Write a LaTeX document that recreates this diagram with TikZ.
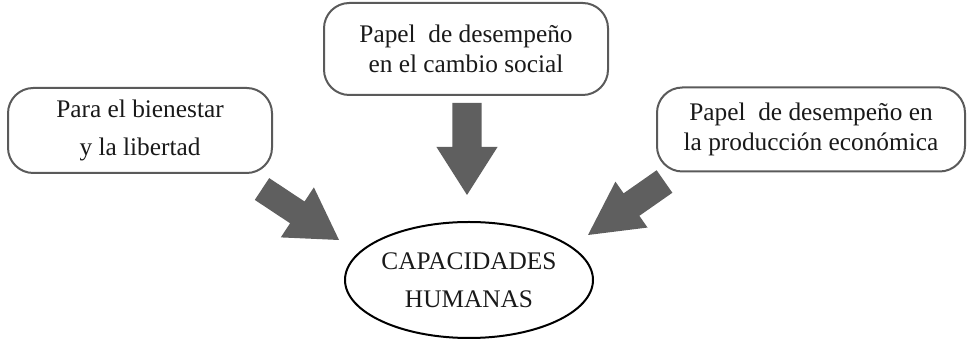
\documentclass[tikz,border=0pt]{standalone}
\usepackage{fontspec}
\setmainfont{Liberation Serif}
\usetikzlibrary{calc,shapes.geometric}
\definecolor{arrowgray}{RGB}{95,95,95}
\definecolor{boxgray}{RGB}{90,90,90}
\tikzset{
  roundbox/.style={draw=boxgray, line width=1.5pt, rounded corners=19pt, inner sep=0pt, align=center, text=black!90},
  centreoval/.style={ellipse, draw=black, line width=1.5pt, inner sep=0pt, align=center, text=black!90},
  fatarrowfill/.style={fill=arrowgray, draw=none}
}
% #1 start, #2 tip, #3 shaft half-width, #4 head half-width, #5 head length
\newcommand{\myfatarrow}[5]{%
  \coordinate (hb) at ($(#2)!#5!(#1)$);
  \fill[fatarrowfill]
    ($(#1)!#3!90:(#2)$) -- ($(hb)!#3!-90:(#1)$) -- ($(hb)!#4!-90:(#1)$) -- (#2)
    -- ($(hb)!#4!90:(#1)$) -- ($(hb)!#3!90:(#1)$) -- ($(#1)!#3!-90:(#2)$) -- cycle;
}
\begin{document}
\begin{tikzpicture}[x=0.75pt,y=-0.75pt]
\useasboundingbox (0,0) rectangle (967,341);
\node[roundbox, minimum width=198pt, minimum height=63.75pt,
  font=\fontsize{19}{29}\selectfont] (bien) at (140,130.5) {Para el bienestar\\y la libertad};
\node[roundbox, minimum width=213pt, minimum height=69pt,
  font=\fontsize{19}{22.5}\selectfont] (social) at (466,49) {Papel\ \ de desempeño\\en el cambio social};
\node[roundbox, minimum width=231pt, minimum height=63pt,
  font=\fontsize{19}{22.5}\selectfont] (prod) at (811,129.5) {Papel\ \ de desempeño en\\la producción económica};
\node[centreoval, minimum width=186pt, minimum height=87pt,
  font=\fontsize{19}{28.5}\selectfont] (cap) at (469,280) {CAPACIDADES\\HUMANAS};
% arrows
\coordinate (sA) at (467,103); \coordinate (tA) at (467,195);
\coordinate (sB) at (262,189); \coordinate (tB) at (339,240);
\coordinate (sC) at (664.5,181.5); \coordinate (tC) at (588,235);
\myfatarrow{sA}{tA}{10.9pt}{22.9pt}{36pt}
\myfatarrow{sB}{tB}{9.8pt}{22.5pt}{37.5pt}
\myfatarrow{sC}{tC}{10.3pt}{21pt}{39.8pt}
\end{tikzpicture}
\end{document}
